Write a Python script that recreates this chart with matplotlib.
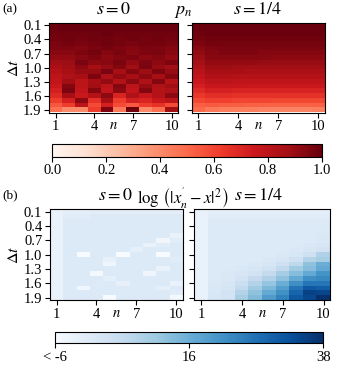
import numpy as np
import matplotlib
matplotlib.use("Agg")
import matplotlib.pyplot as plt

plt.rcParams["font.family"] = "serif"
plt.rcParams["font.serif"] = ["Liberation Serif", "DejaVu Serif"]
plt.rcParams["mathtext.fontset"] = "stix"

n_vals = list(range(1, 11))
dt_vals = [0.1, 0.2, 0.3, 0.4, 0.5, 0.6, 0.7, 0.8, 0.9, 1.0,
           1.1, 1.2, 1.3, 1.4, 1.5, 1.6, 1.7, 1.8, 1.9]
n_ticklabels = ["1", "4", "7", "10"]
dt_ticklabels = ["0.1", "0.4", "0.7", "1.0", "1.3", "1.6", "1.9"]

# p_n, s = 0  (rows: dt, cols: n)
p_s0 = [
    [0.99, 0.99, 0.99, 0.99, 0.99, 0.99, 0.99, 0.99, 0.99, 0.99],
    [0.99, 0.99, 0.99, 0.99, 0.99, 0.99, 0.99, 0.99, 0.99, 0.99],
    [0.98, 0.98, 0.98, 0.98, 0.99, 0.98, 0.98, 0.98, 0.98, 0.98],
    [0.97, 0.98, 0.97, 0.98, 0.98, 0.97, 0.98, 0.97, 0.98, 0.97],
    [0.96, 0.97, 0.96, 0.97, 0.98, 0.97, 0.96, 0.97, 0.97, 0.96],
    [0.95, 0.95, 0.94, 0.96, 0.97, 0.95, 0.94, 0.96, 0.95, 0.94],
    [0.93, 0.93, 0.95, 0.97, 0.94, 0.96, 0.93, 0.95, 0.96, 0.93],
    [0.91, 0.91, 0.93, 0.95, 0.92, 0.94, 0.95, 0.92, 0.94, 0.91],
    [0.88, 0.89, 0.96, 0.92, 0.93, 0.96, 0.91, 0.95, 0.92, 0.95],
    [0.85, 0.88, 0.92, 0.86, 0.90, 0.94, 0.88, 0.96, 0.90, 0.88],
    [0.82, 0.86, 0.90, 0.90, 0.96, 0.86, 0.94, 0.89, 0.95, 0.90],
    [0.80, 0.84, 0.86, 0.95, 0.84, 0.91, 0.86, 0.92, 0.86, 0.94],
    [0.78, 0.88, 0.80, 0.86, 0.91, 0.82, 0.92, 0.84, 0.94, 0.82],
    [0.75, 0.94, 0.80, 0.88, 0.80, 0.94, 0.80, 0.90, 0.84, 0.88],
    [0.72, 0.96, 0.78, 0.94, 0.78, 0.92, 0.78, 0.94, 0.82, 0.84],
    [0.68, 0.86, 0.75, 0.82, 0.92, 0.70, 0.84, 0.76, 0.82, 0.92],
    [0.62, 0.72, 0.92, 0.66, 0.86, 0.62, 0.72, 0.70, 0.76, 0.80],
    [0.55, 0.62, 0.80, 0.58, 0.72, 0.58, 0.54, 0.62, 0.66, 0.58],
    [0.48, 0.40, 0.40, 0.62, 0.95, 0.45, 0.98, 0.40, 0.48, 0.88],
]

# p_n, s = 1/4
p_s14 = [
    [0.99, 0.99, 0.99, 0.99, 0.99, 0.99, 0.99, 0.99, 0.99, 0.99],
    [0.99, 0.99, 0.99, 0.99, 0.99, 0.99, 0.99, 0.99, 0.99, 0.99],
    [0.98, 0.99, 0.99, 0.99, 0.99, 0.99, 0.99, 0.99, 0.99, 0.99],
    [0.97, 0.98, 0.98, 0.98, 0.98, 0.98, 0.98, 0.98, 0.98, 0.98],
    [0.95, 0.97, 0.97, 0.97, 0.97, 0.97, 0.97, 0.97, 0.97, 0.97],
    [0.93, 0.95, 0.96, 0.96, 0.96, 0.96, 0.96, 0.96, 0.96, 0.96],
    [0.91, 0.94, 0.95, 0.95, 0.95, 0.94, 0.94, 0.94, 0.94, 0.94],
    [0.89, 0.93, 0.93, 0.93, 0.93, 0.93, 0.92, 0.92, 0.92, 0.92],
    [0.87, 0.91, 0.91, 0.91, 0.91, 0.90, 0.90, 0.90, 0.90, 0.90],
    [0.84, 0.89, 0.89, 0.88, 0.88, 0.88, 0.88, 0.88, 0.88, 0.88],
    [0.81, 0.86, 0.86, 0.86, 0.85, 0.85, 0.85, 0.85, 0.85, 0.85],
    [0.78, 0.83, 0.83, 0.82, 0.82, 0.82, 0.82, 0.82, 0.82, 0.82],
    [0.75, 0.80, 0.80, 0.79, 0.79, 0.79, 0.79, 0.79, 0.79, 0.79],
    [0.72, 0.76, 0.76, 0.76, 0.75, 0.75, 0.75, 0.75, 0.75, 0.75],
    [0.68, 0.72, 0.72, 0.71, 0.71, 0.71, 0.71, 0.71, 0.71, 0.71],
    [0.64, 0.67, 0.67, 0.66, 0.66, 0.66, 0.66, 0.66, 0.66, 0.66],
    [0.59, 0.61, 0.61, 0.60, 0.60, 0.60, 0.59, 0.59, 0.59, 0.59],
    [0.53, 0.54, 0.53, 0.53, 0.52, 0.52, 0.52, 0.52, 0.52, 0.52],
    [0.50, 0.45, 0.44, 0.43, 0.43, 0.42, 0.42, 0.42, 0.42, 0.43],
]

# log(|x_n' - x|^2), s = 0
err_s0 = [
    [-3, -2, -2, -1.5, -1.5, -1.5, -1.5, -1.5, -1.5, -1.5],
    [-3, -1, -1, -0.5, -0.5, -0.5, -0.5, -0.5, -0.5, -0.5],
    [-3, -0.5, -0.5, 0, 0, 0, 0, 0, 0, 0],
    [-3, 0, 0, 0, 0, 0, 0, 0, 0, 0],
    [-3, 0, 0, 0, 0, 0, 0, 0, 0, 0],
    [-3, 0, 0, 0, 0, 0, 0, 0, 0, -3],
    [-3, 0, 0, 0, 0, 0, 0, 0, -4.5, -1],
    [-3, 0, 0, 0, 0, 0, 0, -3, -1, 0],
    [-3, 0, 0, 0, 0, 0, -2, 0, 0, 0],
    [-3, 0, -8, 0, 0, -8, 0, 0, -8, 0],
    [-3, 0, 0, 0, -2.5, 0, 0, 0, 0, -1],
    [-3, 0, 0, 0, -4, 0, 0, 0, 0, 0],
    [-3, 0, 0, 0, 0, 0, 0, 0, -3, 0],
    [-3, 0, 0, -5, 0, 0, 0, -4, 0, 0],
    [-3, 0, 0, 0, -2, 0, 0, 0, 0, 0],
    [-3, 0, 0, 0, 0, -2.5, 0, 0, 0, -3],
    [-3, 0, -4, 0, 0, 0, 0, 0, -2, 0],
    [-3, 0, 0, 0, 0, 0, 0, 0, 0, -1],
    [-3, 0, 0, 0, -7, 0, 0, 0, 0, -5],
]

# log(|x_n' - x|^2), s = 1/4
err_s14 = [
    [-3, -2, -2, -2, -2, -2, -2, -2, -2, -2],
    [-3, -1, -1, -1, -1, -1, -1, -1, -1, -1],
    [-3, -0.5, -0.5, -0.5, -0.5, -0.5, -0.5, -0.5, -0.5, -0.5],
    [-3, 0, 0, 0, 0, 0, 0, 0, 0, 0],
    [-3, 0, 0, 0, 0, 0, 0, 0, 0, 0],
    [-3, 0, 0, 0, 0, 0, 0, 0, 0, 0.5],
    [-3, 0, 0, 0, 0, 0, 0, 0, 0, 0.5],
    [-3, 0, 0, 0, 0, 0, 0, 0, 0.5, 1],
    [-3, 0, 0, 0, 0, 0, 0, 0.5, 1, 2],
    [-3, 0, 0, 0, 0, 0, 0.5, 1, 3, 8],
    [-3, 0, 0, 0, 0, 0.5, 1, 3, 7.5, 9],
    [-3, 0, 0, 0, 0.5, 1, 3, 6, 12, 16],
    [-3, 0, 0, 0.5, 1, 2.5, 5.5, 10, 13, 17],
    [-3, 0, 0.5, 1, 2.5, 5, 9.5, 13, 17, 21],
    [-3, 0, 0.5, 2, 5, 8, 12, 17, 22, 23],
    [-3, 0.5, 1, 3.5, 7.5, 11.5, 16, 22, 26, 26],
    [-3, 0.5, 1.5, 5.5, 10, 14, 19, 26.5, 31, 30],
    [-3, 0.5, 2, 7.5, 12, 17, 21.5, 29, 35, 34],
    [-3, 1, 2, 9, 13.5, 19.5, 24, 31, 34, 38],
]

W, H = 338, 371


def box(x0, x1, y0, y1):
    # pixel box (from top-left) -> figure fraction
    return [x0 / W, 1 - y1 / H, (x1 - x0) / W, (y1 - y0) / H]


fig = plt.figure(figsize=(W / 100, H / 100), dpi=100)

tick_fs = 10.5
title_fs = 13

ax_a0 = fig.add_axes(box(49.3, 178.3, 23, 112.5))
ax_a1 = fig.add_axes(box(191.7, 324.7, 23, 112.5))
cax_a = fig.add_axes(box(52.5, 321.5, 143.5, 156.5))
ax_b0 = fig.add_axes(box(50, 182.7, 209.3, 300))
ax_b1 = fig.add_axes(box(194.3, 330.3, 209.3, 300))
cax_b = fig.add_axes(box(55, 323.3, 332, 343))

xt = [n_vals.index(int(t)) for t in n_ticklabels]
yt = [dt_vals.index(float(t)) for t in dt_ticklabels]


def style(ax, first):
    ax.set_xticks(xt)
    ax.set_xticklabels(n_ticklabels, fontsize=tick_fs)
    ax.set_yticks(yt)
    if first:
        ax.set_yticklabels(dt_ticklabels, fontsize=tick_fs)
        ax.set_ylabel(r"$\Delta t$", fontsize=tick_fs + 1, labelpad=1)
    else:
        ax.set_yticklabels([])
    ax.tick_params(length=3.5, width=0.8, pad=2)
    ax.set_xlabel(r"$n$", fontsize=tick_fs, labelpad=-10)


im_a = ax_a0.imshow(np.array(p_s0), cmap="Reds", vmin=0, vmax=1, aspect="auto", interpolation="nearest")
ax_a1.imshow(np.array(p_s14), cmap="Reds", vmin=0, vmax=1, aspect="auto", interpolation="nearest")
im_b = ax_b0.imshow(np.array(err_s0), cmap="Blues", vmin=-6, vmax=38, aspect="auto", interpolation="nearest")
ax_b1.imshow(np.array(err_s14), cmap="Blues", vmin=-6, vmax=38, aspect="auto", interpolation="nearest")

style(ax_a0, True)
style(ax_a1, False)
style(ax_b0, True)
style(ax_b1, False)

cb_a = fig.colorbar(im_a, cax=cax_a, orientation="horizontal")
cb_a.set_ticks([0.0, 0.2, 0.4, 0.6, 0.8, 1.0])
cb_a.set_ticklabels(["0.0", "0.2", "0.4", "0.6", "0.8", "1.0"])
cb_b = fig.colorbar(im_b, cax=cax_b, orientation="horizontal")
cb_b.set_ticks([-6, 16, 38])
cb_b.set_ticklabels(["< -6", "16", "38"])
for cb in (cb_a, cb_b):
    cb.ax.tick_params(labelsize=tick_fs, length=3.5, width=0.8, pad=2)
    cb.outline.set_linewidth(0.8)

fig.text(2 / W, 1 - 9 / H, "(a)", fontsize=9.5, va="center", ha="left")
fig.text(113.5 / W, 1 - 10 / H, r"$s=0$", fontsize=title_fs, ha="center", va="center")
fig.text(183 / W, 1 - 11 / H, r"$p_n$", fontsize=title_fs, ha="center", va="center")
fig.text(258 / W, 1 - 10 / H, r"$s=1/4$", fontsize=title_fs, ha="center", va="center")

fig.text(2 / W, 1 - 195 / H, "(b)", fontsize=9.5, va="center", ha="left")
fig.text(116 / W, 1 - 196 / H, r"$s=0$", fontsize=title_fs, ha="center", va="center")
fig.text(183 / W, 1 - 198 / H, r"$\log\,\left(|x_n^{'}-x|^2\right)$", fontsize=title_fs - 1, ha="center", va="center")
fig.text(259 / W, 1 - 196 / H, r"$s=1/4$", fontsize=title_fs, ha="center", va="center")

fig.savefig("out.png", dpi=100)
